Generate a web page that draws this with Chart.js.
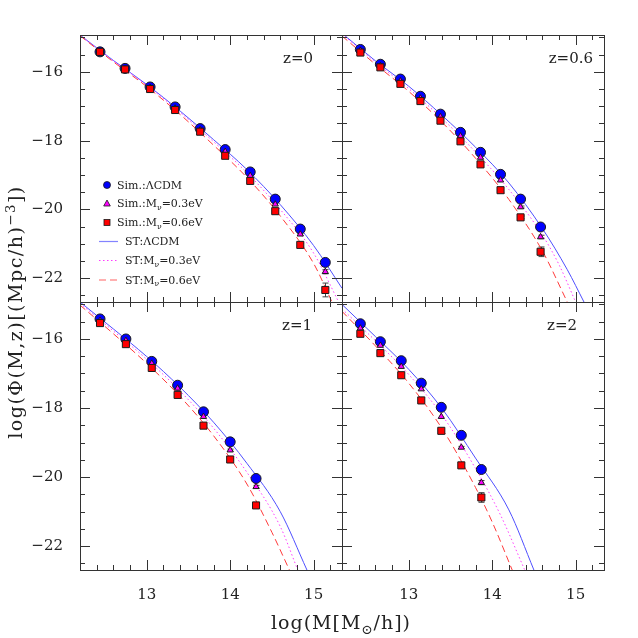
<!DOCTYPE html>
<html>
<head>
<meta charset="utf-8">
<script src="https://cdn.jsdelivr.net/npm/chart.js@4.4.0/dist/chart.umd.min.js"></script>
<style>
html, body { margin: 0; padding: 0; background: #fff; }
#wrap { position: relative; width: 638px; height: 638px; font-family: "DejaVu Serif", serif; color: #222; }
#wrap canvas { position: absolute; left: 0; top: 0; }
.lab { position: absolute; line-height: 1; white-space: nowrap; }
.zlab { font-size: 15px; }
.leg { font-size: 11px; }
.lab sub { font-size: 70%; vertical-align: 0; position: relative; top: 0.35em; }
.lab sup { font-size: 70%; vertical-align: 0; position: relative; top: -0.55em; }
#xtitle { font-size: 19px; left: 341px; top: 622px; transform: translate(-50%, -50%); letter-spacing: 1px; }
#ytitle { font-size: 19px; left: 15px; top: 312px; transform: translate(-50%, -50%) rotate(-90deg); letter-spacing: 1.5px; }
</style>
</head>
<body>
<div id="wrap">
  <canvas id="pz0" width="638" height="638"></canvas>
  <canvas id="pz06" width="638" height="638"></canvas>
  <canvas id="pz1" width="638" height="638"></canvas>
  <canvas id="pz2" width="638" height="638"></canvas>
  <svg id="legendIcons" width="638" height="638" style="position:absolute;left:0;top:0"></svg>
  <div class="lab" id="xtitle">log(M[M<sub>⊙</sub>/h])</div>
  <div class="lab" id="ytitle">log(Φ(M,z)[(Mpc/h)<sup>−3</sup>])</div>
</div>
<script>
// axis ticks
var xTicks = [13, 14, 15];
var yTicks = [-22, -20, -18, -16];
var redshiftLabels = ["z=0", "z=0.6", "z=1", "z=2"];

// ---- z = 0 ----
var massZ0 = [12.44, 12.74, 13.04, 13.34, 13.64, 13.94, 14.24, 14.54, 14.84, 15.14];
var simLcdmZ0 = [-15.42, -15.90, -16.44, -17.02, -17.65, -18.26, -18.91, -19.70, -20.57, -21.54];
var simNu03Z0 = [-15.42, -15.92, -16.46, -17.06, -17.69, -18.32, -19.02, -19.85, -20.72, -21.81];
var simNu06Z0 = [-15.42, -15.93, -16.50, -17.11, -17.74, -18.44, -19.17, -20.05, -21.03, -22.34];
var errNu03Z0 = [0, 0, 0, 0, 0, 0, 0, 0, 0.03, 0.06];
var errNu06Z0 = [0, 0, 0, 0, 0, 0, 0, 0, 0.04, 0.2];
var stXLcdmZ0 = [12.2, 12.6, 13.0, 13.4, 13.8, 14.2, 14.6, 15.0, 15.34];
var stLcdmZ0 = [-14.93, -15.67, -16.37, -17.14, -17.97, -18.84, -19.86, -21.05, -22.29];
var stXNu03Z0 = [12.2, 12.6, 13.0, 13.4, 13.8, 14.2, 14.6, 15.0, 15.3];
var stNu03Z0 = [-14.94, -15.68, -16.39, -17.18, -18.03, -18.93, -20.0, -21.27, -22.69];
var stXNu06Z0 = [12.2, 12.6, 13.0, 13.4, 13.8, 14.2, 14.6, 15.0, 15.22];
var stNu06Z0 = [-14.95, -15.71, -16.43, -17.24, -18.13, -19.07, -20.19, -21.57, -22.69];

// ---- z = 0.6 ----
var massZ06 = [12.42, 12.66, 12.90, 13.14, 13.38, 13.62, 13.86, 14.10, 14.34, 14.58];
var simLcdmZ06 = [-15.35, -15.78, -16.21, -16.71, -17.23, -17.76, -18.34, -18.98, -19.70, -20.51];
var simNu03Z06 = [-15.38, -15.83, -16.27, -16.77, -17.31, -17.87, -18.49, -19.15, -19.93, -20.80];
var simNu06Z06 = [-15.44, -15.87, -16.35, -16.85, -17.42, -18.02, -18.69, -19.44, -20.23, -21.23];
var errNu03Z06 = [0, 0, 0, 0, 0, 0, 0, 0, 0.03, 0.05];
var errNu06Z06 = [0, 0, 0, 0, 0, 0, 0, 0, 0.04, 0.14];
var stXLcdmZ06 = [12.2, 12.6, 13.0, 13.4, 13.8, 14.2, 14.6, 14.9, 15.1];
var stLcdmZ06 = [-14.88, -15.68, -16.42, -17.27, -18.19, -19.23, -20.55, -21.75, -22.69];
var stXNu03Z06 = [12.2, 12.6, 13.0, 13.4, 13.8, 14.2, 14.6, 14.8, 15.0];
var stNu03Z06 = [-14.90, -15.72, -16.49, -17.36, -18.33, -19.42, -20.74, -21.6, -22.69];
var stXNu06Z06 = [12.2, 12.6, 13.0, 13.4, 13.8, 14.2, 14.6, 14.9];
var stNu06Z06 = [-14.96, -15.78, -16.57, -17.47, -18.51, -19.71, -21.2, -22.69];

// ---- z = 1 ----
var massZ1 = [12.44, 12.75, 13.06, 13.37, 13.68, 14.00, 14.31];
var simLcdmZ1 = [-15.42, -16.00, -16.65, -17.34, -18.11, -18.98, -20.04];
var simNu03Z1 = [-15.47, -16.05, -16.71, -17.43, -18.25, -19.22, -20.28];
var simNu06Z1 = [-15.54, -16.15, -16.84, -17.62, -18.51, -19.49, -20.82];
var errNu03Z1 = [0, 0, 0, 0, 0, 0.03, 0.04];
var errNu06Z1 = [0, 0, 0, 0, 0, 0.03, 0.06];
var stXLcdmZ1 = [12.2, 12.6, 13.0, 13.4, 13.8, 14.2, 14.6, 14.92];
var stLcdmZ1 = [-14.93, -15.71, -16.51, -17.40, -18.41, -19.60, -21.0, -22.69];
var stXNu03Z1 = [12.2, 12.6, 13.0, 13.4, 13.8, 14.2, 14.6, 14.81];
var stNu03Z1 = [-14.97, -15.77, -16.59, -17.51, -18.58, -19.86, -21.43, -22.69];
var stXNu06Z1 = [12.2, 12.6, 13.0, 13.4, 13.8, 14.2, 14.5, 14.71];
var stNu06Z1 = [-15.02, -15.85, -16.71, -17.67, -18.80, -20.2, -21.6, -22.69];

// ---- z = 2 ----
var massZ2 = [12.42, 12.66, 12.91, 13.15, 13.39, 13.63, 13.87];
var simLcdmZ2 = [-15.56, -16.08, -16.63, -17.28, -17.98, -18.79, -19.78];
var simNu03Z2 = [-15.69, -16.19, -16.80, -17.45, -18.25, -19.14, -20.16];
var simNu06Z2 = [-15.85, -16.41, -17.05, -17.78, -18.66, -19.66, -20.59];
var errNu03Z2 = [0, 0, 0, 0, 0, 0.03, 0.06];
var errNu06Z2 = [0, 0, 0, 0, 0, 0.04, 0.14];
var stXLcdmZ2 = [12.2, 12.6, 13.0, 13.4, 13.8, 14.2, 14.5];
var stLcdmZ2 = [-15.0, -15.93, -16.88, -18.02, -19.45, -20.95, -22.69];
var stXNu03Z2 = [12.2, 12.6, 13.0, 13.4, 13.8, 14.1, 14.39];
var stNu03Z2 = [-15.13, -16.05, -17.03, -18.21, -19.75, -21.1, -22.69];
var stXNu06Z2 = [12.2, 12.6, 13.0, 13.4, 13.8, 14.0, 14.24];
var stNu06Z2 = [-15.2, -16.20, -17.28, -18.60, -20.30, -21.3, -22.69];

var xMin = 12.2, xMax = 15.34, yMin = -22.69, yMax = -14.93;
var blueLine = "#4f4fff", pinkLine = "#ff3cff", redLine = "#ff3a3a";

function pairs(xs, ys) {
    return xs.map((x, i) => ({ x: x, y: ys[i] }));
}

function stLine(xs, ys, color, dash) {
    return {
        data: pairs(xs, ys),
        showLine: true,
        borderColor: color,
        borderWidth: 1,
        borderDash: dash,
        pointRadius: 0,
        cubicInterpolationMode: "monotone",
        order: 3
    };
}

function simPoints(xs, ys, errs, style, fill, radius, order) {
    return {
        data: pairs(xs, ys),
        errs: errs,
        pointStyle: style,
        pointRadius: radius,
        backgroundColor: fill,
        borderColor: "#1a1a1a",
        borderWidth: 1,
        showLine: false,
        order: order
    };
}

// frame with inward ticks on all four sides
const frameTicks = {
    id: "frameTicks",
    afterDatasetsDraw(chart) {
        const { ctx, chartArea: a, scales: { x, y } } = chart;
        ctx.save();
        ctx.strokeStyle = "#333";
        ctx.lineWidth = 1;
        ctx.beginPath();
        for (let k = 61; k <= 76; k++) {
            let px = Math.round(x.getPixelForValue(k * 0.2)) + 0.5;
            let len = k % 5 == 0 ? 10 : 5;
            ctx.moveTo(px, a.bottom); ctx.lineTo(px, a.bottom - len);
            ctx.moveTo(px, a.top); ctx.lineTo(px, a.top + len);
        }
        for (let k = -45; k <= -30; k++) {
            let py = Math.round(y.getPixelForValue(k * 0.5)) + 0.5;
            let len = k % 4 == 0 ? 10 : 5;
            ctx.moveTo(a.left, py); ctx.lineTo(a.left + len, py);
            ctx.moveTo(a.right, py); ctx.lineTo(a.right - len, py);
        }
        ctx.stroke();
        ctx.strokeRect(Math.round(a.left) + 0.5, Math.round(a.top) + 0.5, Math.round(a.width), Math.round(a.height));
        ctx.restore();
    }
};

// error bars from the errs arrays
const errorBars = {
    id: "errorBars",
    beforeDatasetsDraw(chart) {
        const { ctx, scales: { x, y } } = chart;
        ctx.save();
        ctx.strokeStyle = "#444";
        ctx.lineWidth = 1;
        chart.data.datasets.forEach((ds) => {
            if (!ds.errs) return;
            ds.data.forEach((p, i) => {
                let e = ds.errs[i];
                if (!e) return;
                let px = Math.round(x.getPixelForValue(p.x)) + 0.5;
                let y1 = y.getPixelForValue(p.y + e), y2 = y.getPixelForValue(p.y - e);
                ctx.beginPath();
                ctx.moveTo(px, y1); ctx.lineTo(px, y2);
                ctx.moveTo(px - 3, y1); ctx.lineTo(px + 3, y1);
                ctx.moveTo(px - 3, y2); ctx.lineTo(px + 3, y2);
                ctx.stroke();
            });
        });
        ctx.restore();
    }
};

var tickFont = { family: "DejaVu Serif", size: 15 };

function makePanel(p) {
    var padLeft = p.showY ? p.left - 60 : p.left;
    var padBottom = p.showX ? 638 - p.bottom - 40 : 638 - p.bottom;
    return new Chart(document.getElementById(p.id), {
        type: "scatter",
        data: {
            datasets: [
                simPoints(p.mass, p.nu06, p.errNu06, "rect", "#ff0000", 5, 0),
                simPoints(p.mass, p.nu03, p.errNu03, "triangle", "#ff00ff", 3.6, 1),
                simPoints(p.mass, p.lcdm, null, "circle", "#0000ff", 5, 2),
                stLine(p.stXNu06, p.stNu06, redLine, [7, 4]),
                stLine(p.stXNu03, p.stNu03, pinkLine, [1.5, 2.5]),
                stLine(p.stXLcdm, p.stLcdm, blueLine, [])
            ]
        },
        options: {
            responsive: false,
            animation: false,
            events: [],
            layout: { autoPadding: false, padding: { left: padLeft, top: p.top, right: 638 - p.right, bottom: padBottom } },
            plugins: { legend: { display: false }, tooltip: { enabled: false } },
            scales: {
                x: {
                    type: "linear", min: xMin, max: xMax,
                    display: p.showX,
                    grid: { display: false },
                    border: { display: false },
                    afterBuildTicks: (s) => { s.ticks = xTicks.map(v => ({ value: v })); },
                    afterFit: (s) => { s.height = p.showX ? 40 : 0; },
                    ticks: { font: tickFont, color: "#222", padding: 8, maxRotation: 0 }
                },
                y: {
                    type: "linear", min: yMin, max: yMax,
                    display: p.showY,
                    grid: { display: false },
                    border: { display: false },
                    afterBuildTicks: (s) => { s.ticks = yTicks.map(v => ({ value: v })); },
                    afterFit: (s) => { s.width = p.showY ? 60 : 0; },
                    ticks: {
                        font: tickFont, color: "#222", padding: 9,
                        callback: (v) => (v < 0 ? "\u2212" : "") + Math.abs(v)
                    }
                }
            }
        },
        plugins: [errorBars, frameTicks]
    });
}

var panels = [
    { id: "pz0", left: 80, top: 35, right: 342, bottom: 302, showX: false, showY: true,
      mass: massZ0, lcdm: simLcdmZ0, nu03: simNu03Z0, nu06: simNu06Z0, errNu03: errNu03Z0, errNu06: errNu06Z0,
      stXLcdm: stXLcdmZ0, stLcdm: stLcdmZ0, stXNu03: stXNu03Z0, stNu03: stNu03Z0, stXNu06: stXNu06Z0, stNu06: stNu06Z0 },
    { id: "pz06", left: 342, top: 35, right: 604, bottom: 302, showX: false, showY: false,
      mass: massZ06, lcdm: simLcdmZ06, nu03: simNu03Z06, nu06: simNu06Z06, errNu03: errNu03Z06, errNu06: errNu06Z06,
      stXLcdm: stXLcdmZ06, stLcdm: stLcdmZ06, stXNu03: stXNu03Z06, stNu03: stNu03Z06, stXNu06: stXNu06Z06, stNu06: stNu06Z06 },
    { id: "pz1", left: 80, top: 302, right: 342, bottom: 570, showX: true, showY: true,
      mass: massZ1, lcdm: simLcdmZ1, nu03: simNu03Z1, nu06: simNu06Z1, errNu03: errNu03Z1, errNu06: errNu06Z1,
      stXLcdm: stXLcdmZ1, stLcdm: stLcdmZ1, stXNu03: stXNu03Z1, stNu03: stNu03Z1, stXNu06: stXNu06Z1, stNu06: stNu06Z1 },
    { id: "pz2", left: 342, top: 302, right: 604, bottom: 570, showX: true, showY: false,
      mass: massZ2, lcdm: simLcdmZ2, nu03: simNu03Z2, nu06: simNu06Z2, errNu03: errNu03Z2, errNu06: errNu06Z2,
      stXLcdm: stXLcdmZ2, stLcdm: stLcdmZ2, stXNu03: stXNu03Z2, stNu03: stNu03Z2, stXNu06: stXNu06Z2, stNu06: stNu06Z2 }
];

panels.forEach(p => makePanel(p));

// redshift labels, right aligned near the top-right of each panel
var zLabelPos = [[313, 51], [593, 51], [312, 318], [577, 318]];
var wrap = document.getElementById("wrap");
redshiftLabels.forEach((txt, i) => {
    var d = document.createElement("div");
    d.className = "lab zlab";
    d.textContent = txt;
    d.style.right = (638 - zLabelPos[i][0]) + "px";
    d.style.top = zLabelPos[i][1] + "px";
    wrap.appendChild(d);
});

// legend inside the z=0 panel
var legendItems = [
    { kind: "circle", html: "Sim.:ΛCDM" },
    { kind: "triangle", html: "Sim.:M<sub>ν</sub>=0.3eV" },
    { kind: "rect", html: "Sim.:M<sub>ν</sub>=0.6eV" },
    { kind: "solid", html: "ST:ΛCDM" },
    { kind: "dotted", html: "ST:M<sub>ν</sub>=0.3eV" },
    { kind: "dashed", html: "ST:M<sub>ν</sub>=0.6eV" }
];
var legendY = [185, 203.5, 222.5, 241.5, 260.5, 280];
var svg = document.getElementById("legendIcons");
var icons = "";
legendItems.forEach((it, i) => {
    var cy = legendY[i];
    var cx = 107;
    if (it.kind == "circle") icons += `<circle cx="${cx}" cy="${cy}" r="3.5" fill="#0000ff" stroke="#1a1a1a" stroke-width="0.8"/>`;
    if (it.kind == "triangle") icons += `<polygon points="${cx},${cy - 3.5} ${cx + 3.3},${cy + 2.5} ${cx - 3.3},${cy + 2.5}" fill="#ff00ff" stroke="#1a1a1a" stroke-width="0.8"/>`;
    if (it.kind == "rect") icons += `<rect x="${cx - 3}" y="${cy - 3}" width="6" height="6" fill="#ff0000" stroke="#1a1a1a" stroke-width="0.8"/>`;
    if (it.kind == "solid") icons += `<line x1="99" y1="${cy}" x2="118" y2="${cy}" stroke="${blueLine}" stroke-opacity="0.7" stroke-width="1.2"/>`;
    if (it.kind == "dotted") icons += `<line x1="99" y1="${cy}" x2="118" y2="${cy}" stroke="${pinkLine}" stroke-width="1" stroke-dasharray="1.5,2.5"/>`;
    if (it.kind == "dashed") icons += `<line x1="99" y1="${cy}" x2="118" y2="${cy}" stroke="${redLine}" stroke-opacity="0.8" stroke-width="1.2" stroke-dasharray="7,4"/>`;
    var d = document.createElement("div");
    d.className = "lab leg";
    d.innerHTML = it.html;
    d.style.left = (i < 3 ? 117 : 125) + "px";
    d.style.top = (cy - 5.5) + "px";
    wrap.appendChild(d);
});
svg.innerHTML = icons;
</script>
</body>
</html>
